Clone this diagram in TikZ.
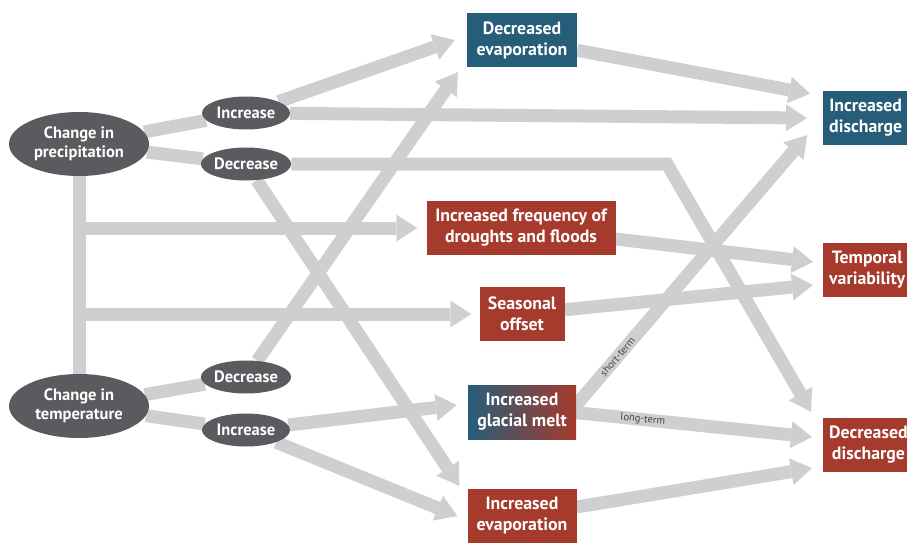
\documentclass[tikz,border=0pt]{standalone}
\usepackage{fontspec}
\setmainfont{PT Sans}
\usetikzlibrary{arrows.meta,shapes.geometric,backgrounds}
\definecolor{ovalgray}{RGB}{90,91,94}
\definecolor{flowgray}{RGB}{206,207,209}
\definecolor{boxblue}{RGB}{38,94,122}
\definecolor{boxred}{RGB}{166,58,44}
\definecolor{notegray}{RGB}{70,70,72}

\begin{document}
\begin{tikzpicture}[x=1pt,y=-1pt,
  oval/.style={ellipse,fill=ovalgray,text=white,inner sep=0pt,align=center,
    font=\bfseries\fontsize{16.5}{19}\selectfont},
  bigoval/.style={oval,minimum width=140pt,minimum height=64pt},
  smalloval/.style={oval,minimum width=88pt,minimum height=33pt},
  effect/.style={rectangle,text=white,align=center,minimum height=54pt,inner xsep=6pt,
    font=\bfseries\fontsize{17.8}{21}\selectfont},
  link/.style={draw=flowgray,line width=13pt},
  flow/.style={link,-{Triangle[width=27pt,length=21pt,line width=0pt]}},
  note/.style={sloped,text=notegray,inner sep=1pt,font=\fontsize{10.5}{12}\selectfont}]
  \useasboundingbox (0,0) rectangle (907,543);
  % causes
  \node[bigoval] (CP) at (79,144) {Change in\\precipitation};
  \node[bigoval] (CT) at (79,406) {Change in\\temperature};
  \node[smalloval] (PI) at (246,113) {Increase};
  \node[smalloval] (PD) at (246,164) {Decrease};
  \node[smalloval] (TD) at (246,377) {Decrease};
  \node[smalloval] (TI) at (246,430) {Increase};
  % effects
  \node[effect,fill=boxblue,minimum width=110pt] (DE) at (522,40) {Decreased\\evaporation};
  \node[effect,fill=boxred,minimum width=189pt] (IFDF) at (521,228) {Increased frequency of\\droughts and floods};
  \node[effect,fill=boxred,minimum width=85pt] (SO) at (522,314) {Seasonal\\offset};
  \node[effect,left color=boxblue,right color=boxred,minimum width=108pt] (GM) at (522,412) {Increased\\glacial melt};
  \node[effect,fill=boxred,minimum width=109pt] (IE) at (522,516) {Increased\\evaporation};
  % outcomes
  \node[effect,fill=boxblue,anchor=west] (ID) at (823,118) {Increased\\discharge};
  \node[effect,fill=boxred,anchor=west] (TV) at (823,270) {Temporal\\variability};
  \node[effect,fill=boxred,anchor=west] (DD) at (823,445) {Decreased\\discharge};
  \coordinate (bend) at (667,166);
  \begin{scope}[on background layer]
    \draw[link] (CP) -- (CT);
    \draw[link] (CP) -- (PI); \draw[link] (CP) -- (PD);
    \draw[link] (CT) -- (TD); \draw[link] (CT) -- (TI);
    \draw[flow] (CP |- IFDF) -- ([xshift=-9pt]IFDF.west);
    \draw[flow] (CP |- SO) -- ([xshift=-8pt]SO.west);
    \draw[flow] (PI) -- ([xshift=-12pt]DE.west);
    \draw[flow] (PI) -- ([xshift=-16pt]ID.west);
    \draw[flow] (PD) -- (PD -| bend) -- ([shift={(-12,-6)}]DD.north west);
    \draw[flow] (PD) -- ([shift={(-8,-3)}]IE.north west);
    \draw[flow] (TD) -- ([shift={(-9,5)}]DE.south west);
    \draw[flow] (TI) -- ([shift={(-11,-7)}]GM.west);
    \draw[flow] (TI) -- ([xshift=-10pt]IE.west);
    \draw[flow] (DE) -- ([shift={(-13,3)}]ID.north west);
    \draw[flow] (IFDF) -- ([shift={(-10,-8)}]TV.west);
    \draw[flow] (SO) -- ([shift={(-10,15)}]TV.west);
    \draw[flow] ([xshift=-6pt]GM.east) -- node[note,pos=.2] {short-term} ([shift={(-16,-10)}]ID.south west);
    \draw[flow] ([xshift=-6pt]GM.east) -- node[note,pos=.3] {long-term} ([shift={(-11,-8)}]DD.west);
    \draw[flow] (IE) -- ([shift={(-11,-4)}]DD.south west);
  \end{scope}
\end{tikzpicture}
\end{document}
